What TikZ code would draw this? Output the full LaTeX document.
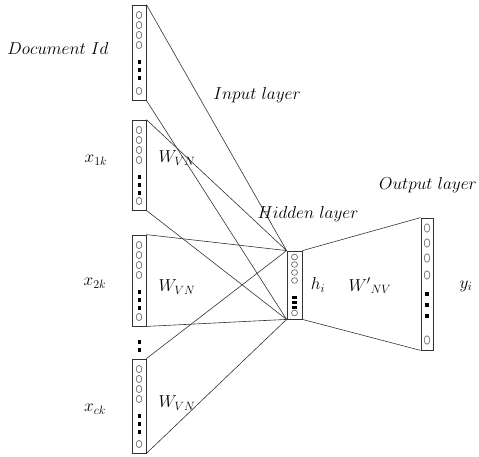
\documentclass[tikz,border=0pt]{standalone}
\usetikzlibrary{positioning}
\begin{document}
\begin{tikzpicture}[x=1pt,y=-1pt,
  layerbox/.style={draw=black!80,line width=0.8pt,inner sep=0pt,fill=white},
  neuron/.style={draw=black!60,line width=0.65pt},
  sq/.style={fill=black},
  conn/.style={draw=black!80,line width=0.6pt},
  lbl/.style={inner sep=0pt,font=\fontsize{17}{20}\selectfont}]
\useasboundingbox (0,0) rectangle (479,456);
\node[layerbox,minimum width=14pt,minimum height=95pt] (doc) at (139,52.5) {};
\node[layerbox,minimum width=14pt,minimum height=90pt] (b1) at (139,165) {};
\node[layerbox,minimum width=14pt,minimum height=91pt] (b2) at (139,280.5) {};
\node[layerbox,minimum width=14pt,minimum height=94pt] (b3) at (139,406) {};
\node[layerbox,minimum width=15pt,minimum height=68pt] (hid) at (294.5,285) {};
\node[layerbox,minimum width=12pt,minimum height=132pt] (out) at (427,284) {};
\foreach \b in {doc,b1,b2,b3}{
  \draw[conn] (\b.north east) -- (hid.north west);
  \draw[conn] (\b.south east) -- (hid.south west);
}
\draw[conn] (hid.north east) -- (out.north west);
\draw[conn] (hid.south east) -- (out.south west);
% neurons in input columns
\foreach \t/\bt in {5/100,120/210,235/326,359/453}{
  \foreach \k in {0,1,2,3} \draw[neuron] (139,\t+10+10*\k) ellipse (2.8 and 3.6);
  \foreach \k in {0,1,2} \fill[sq] (137.5,\t+55+8*\k) rectangle (140.5,\t+59+8*\k);
  \draw[neuron] (139,\bt-9) ellipse (2.8 and 3.6);
}
% dots between columns
\fill[sq] (137.5,340) rectangle (140.5,344);
\fill[sq] (137.5,348) rectangle (140.5,352);
% hidden neurons
\foreach \y in {257,264.5,272.5,280.5} \draw[neuron] (294.5,\y) ellipse (3 and 2.8);
\foreach \y in {297.5,302.5,307.5} \fill[sq] (292,\y-1.4) rectangle (297,\y+1.4);
\draw[neuron] (294.5,313) ellipse (3 and 2.8);
% output neurons
\foreach \y in {228,243,258,275} \draw[neuron] (427,\y) ellipse (2.8 and 4.2);
\foreach \y in {294,305,316} \fill[sq] (425,\y-2) rectangle (429,\y+2);
\draw[neuron] (427,340) ellipse (2.8 and 4.2);
% labels
\node[lbl] (tdoc) at (58,48) {$Document\ Id$};
\node[lbl] (tin) at (257,95) {$Input\ layer$};
\node[lbl] (tout) at (428,185) {$Output\ layer$};
\node[lbl] (thid) at (308,214) {$Hidden\ layer$};
\node[lbl] (x1) at (96,160) {$x_{1k}$};
\node[lbl] (x2) at (95,283) {$x_{2k}$};
\node[lbl] (xc) at (95,409) {$x_{ck}$};
\node[lbl] (w1) at (177,158) {$W_{VN}$};
\node[lbl] (w2) at (177,287) {$W_{VN}$};
\node[lbl] (w3) at (177,403) {$W_{VN}$};
\node[lbl] (hi) at (318,285) {$h_i$};
\node[lbl] (wp) at (370,286) {$W'{}_{NV}$};
\node[lbl] (yi) at (466,286) {$y_i$};
\end{tikzpicture}
\end{document}
